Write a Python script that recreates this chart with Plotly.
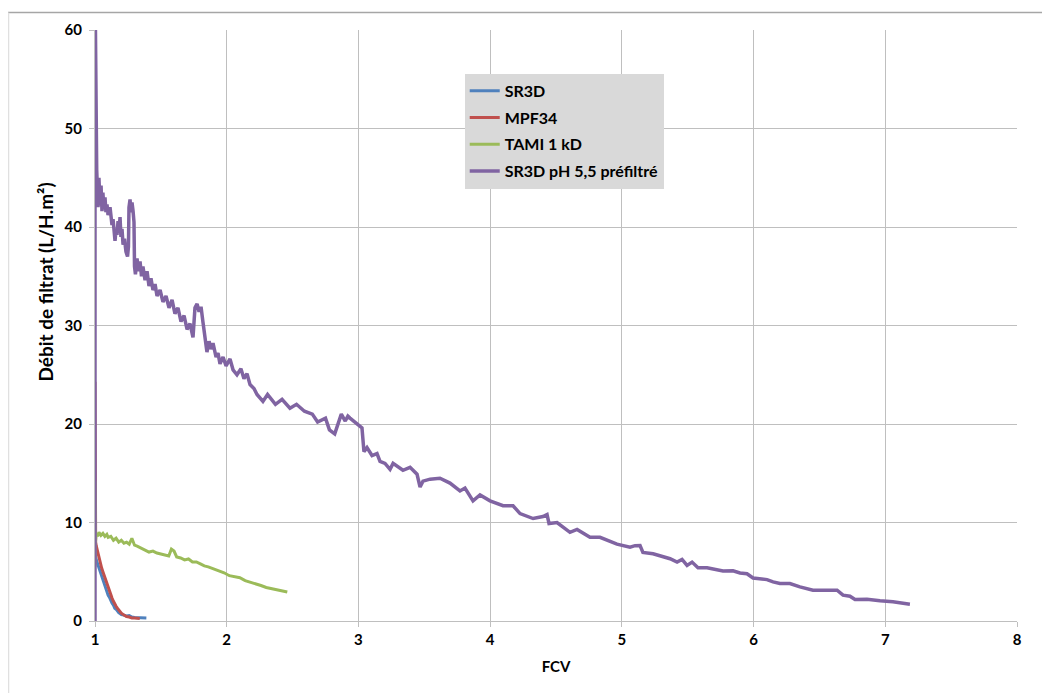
import plotly.graph_objects as go

# ---------------- data ----------------
sr3d_x = [1.0, 1.002, 1.01, 1.02, 1.03, 1.04, 1.05, 1.06, 1.07, 1.08, 1.09, 1.1, 1.11, 1.12,
          1.13, 1.14, 1.15, 1.16, 1.17, 1.18, 1.19, 1.2, 1.22, 1.24, 1.26, 1.28, 1.3, 1.32,
          1.34, 1.36, 1.38, 1.39]
sr3d_y = [7.5, 6.8, 6.2, 5.8, 5.2, 4.9, 4.4, 4.1, 3.6, 3.3, 3.0, 2.6, 2.4, 2.0,
          1.8, 1.6, 1.3, 1.2, 1.0, 0.85, 0.75, 0.65, 0.6, 0.5, 0.55, 0.4, 0.35, 0.35,
          0.3, 0.32, 0.3, 0.3]

mpf34_x = [1.0, 1.0, 1.005, 1.01, 1.02, 1.03, 1.04, 1.05, 1.06, 1.07, 1.08, 1.09, 1.1, 1.11,
           1.12, 1.13, 1.14, 1.15, 1.16, 1.17, 1.18, 1.19, 1.2, 1.22, 1.24, 1.26, 1.28, 1.3,
           1.32, 1.34]
mpf34_y = [24.3, 8.3, 8.0, 7.6, 7.0, 6.4, 6.0, 5.4, 5.0, 4.6, 4.1, 3.7, 3.3, 3.0,
           2.6, 2.3, 2.0, 1.7, 1.5, 1.3, 1.1, 0.95, 0.8, 0.6, 0.45, 0.4, 0.3, 0.3,
           0.25, 0.25]

tami_x = [1.0, 1.0, 1.003, 1.01, 1.02, 1.03, 1.045, 1.06, 1.075, 1.09, 1.1, 1.12, 1.14, 1.16,
          1.18, 1.2, 1.22, 1.24, 1.26, 1.28, 1.3, 1.32, 1.35, 1.38, 1.41, 1.44, 1.47, 1.5,
          1.53, 1.56, 1.58, 1.6, 1.62, 1.65, 1.68, 1.71, 1.74, 1.77, 1.8, 1.83, 1.86, 1.9,
          1.94, 1.98, 2.02, 2.06, 2.1, 2.14, 2.18, 2.22, 2.26, 2.3, 2.34, 2.38, 2.42, 2.46]
tami_y = [5.5, 14.2, 8.0, 8.9, 8.6, 9.0, 8.7, 8.9, 8.6, 8.8, 8.5, 8.6, 8.2, 8.4,
          8.0, 8.2, 7.9, 8.0, 7.8, 8.4, 7.7, 7.6, 7.4, 7.2, 7.0, 7.1, 6.9, 6.8,
          6.7, 6.6, 7.3, 7.1, 6.5, 6.4, 6.2, 6.3, 6.0, 6.0, 5.8, 5.6, 5.5, 5.3,
          5.1, 4.9, 4.6, 4.5, 4.4, 4.1, 3.95, 3.8, 3.6, 3.4, 3.3, 3.2, 3.1, 2.95]

ph55_x = [1.0, 1.0, 1.0, 1.013, 1.023, 1.03, 1.038, 1.046, 1.053, 1.06, 1.068, 1.076, 1.083,
          1.091, 1.099, 1.114, 1.129, 1.137, 1.152, 1.16, 1.167, 1.175, 1.182, 1.19, 1.197,
          1.205, 1.213, 1.224, 1.235, 1.247, 1.254, 1.258, 1.266, 1.273, 1.281, 1.289, 1.296,
          1.3, 1.307, 1.319, 1.33, 1.342, 1.353, 1.364, 1.38, 1.395, 1.41, 1.425, 1.44,
          1.456, 1.471, 1.494, 1.516, 1.539, 1.562, 1.585, 1.607, 1.63, 1.653, 1.676, 1.699,
          1.721, 1.744, 1.759, 1.775, 1.79, 1.805, 1.82, 1.835, 1.85, 1.866, 1.881, 1.896,
          1.919, 1.934, 1.949, 1.972, 1.995, 2.025, 2.048, 2.078, 2.108, 2.131, 2.154, 2.177,
          2.207, 2.23, 2.275, 2.31, 2.37, 2.42, 2.48, 2.53, 2.59, 2.65, 2.69, 2.75, 2.78,
          2.82, 2.845, 2.87, 2.9, 2.92, 2.936, 2.99, 3.027, 3.042, 3.065, 3.103, 3.141,
          3.164, 3.202, 3.24, 3.263, 3.338, 3.392, 3.445, 3.468, 3.49, 3.544, 3.619, 3.695,
          3.771, 3.809, 3.87, 3.923, 3.999, 4.098, 4.174, 4.227, 4.326, 4.401, 4.432, 4.447,
          4.508, 4.606, 4.66, 4.758, 4.834, 4.963, 5.062, 5.1, 5.138, 5.16, 5.237, 5.366,
          5.419, 5.457, 5.495, 5.533, 5.578, 5.647, 5.768, 5.844, 5.897, 5.95, 5.996, 6.102,
          6.148, 6.2, 6.276, 6.352, 6.451, 6.558, 6.634, 6.679, 6.732, 6.77, 6.861, 6.96,
          7.058, 7.187]
ph55_y = [0.0, 26.0, 65.0, 45.8, 42.0, 45.0, 42.2, 44.2, 41.6, 43.5, 41.8, 43.0, 41.5,
          42.3, 41.2, 42.0, 40.2, 40.8, 38.6, 39.8, 39.2, 40.6, 39.5, 41.0, 39.0,
          39.8, 38.2, 38.8, 37.5, 37.0, 38.0, 42.0, 42.8, 41.5, 42.5, 41.6, 40.5,
          36.0, 35.2, 36.8, 35.5, 36.5, 35.0, 36.0, 34.6, 35.5, 34.0, 34.8, 33.6,
          34.2, 33.0, 33.6, 32.4, 33.0, 31.8, 32.6, 31.2, 31.8, 30.4, 31.0, 29.6,
          30.2, 28.8, 31.8, 32.2, 31.4, 31.9, 30.3, 29.0, 27.3, 28.4, 27.6, 28.2,
          26.8, 27.2, 26.1, 26.8, 25.9, 26.6, 25.5, 25.0, 25.6, 24.6, 25.1, 24.0,
          23.6, 23.0, 22.3, 23.0, 22.0, 22.5, 21.6, 22.0, 21.3, 21.0, 20.2, 20.6, 19.4,
          19.0, 20.0, 21.0, 20.3, 20.8, 20.6, 20.0, 19.6, 17.2, 17.6, 16.8, 17.0,
          16.2, 16.0, 15.4, 16.0, 15.3, 15.6, 14.9, 13.6, 14.2, 14.4, 14.5, 14.0,
          13.2, 13.5, 12.2, 12.8, 12.2, 11.7, 11.7, 10.9, 10.4, 10.6, 10.8, 9.9,
          10.0, 9.0, 9.3, 8.5, 8.5, 7.8, 7.5, 7.65, 7.66, 6.96, 6.82, 6.32,
          5.98, 6.25, 5.65, 5.98, 5.41, 5.41, 5.07, 5.1, 4.87, 4.8, 4.37, 4.2,
          3.97, 3.8, 3.8, 3.46, 3.13, 3.17, 3.13, 2.62, 2.52, 2.18, 2.2, 2.05,
          1.95, 1.71]

series_names = ["SR3D", "MPF34", "TAMI 1 kD", "SR3D pH 5,5 préfiltré"]
series_x = [sr3d_x, mpf34_x, tami_x, ph55_x]
series_y = [sr3d_y, mpf34_y, tami_y, ph55_y]
series_colors = ["#4f81bd", "#c0504d", "#9bbb59", "#8064a2"]
series_widths = [3, 3, 3, 3.5]

x_ticks = [1, 2, 3, 4, 5, 6, 7, 8]
y_ticks = [0, 10, 20, 30, 40, 50, 60]
y_title = "Débit de filtrat (L/H.m²)"
x_title = "FCV"

FONT = "Lato"

fig = go.Figure()
for name, xs, ys, col, w in zip(series_names, series_x, series_y, series_colors, series_widths):
    fig.add_trace(go.Scatter(x=xs, y=ys, mode="lines", name=name, legendgroup=name,
                             line=dict(color=col, width=w)))

grid = "#bfbfbf"
fig.update_layout(
    width=1050, height=693,
    margin=dict(l=87, r=41, t=18, b=80),
    paper_bgcolor="white", plot_bgcolor="white",
    font=dict(family=FONT, color="#000000"),
    showlegend=True,
    legend=dict(x=0.401, y=0.926, xanchor="left", yanchor="top",
                bgcolor="#d9d9d9", borderwidth=0, tracegroupgap=3,
                font=dict(family=FONT, size=16, color="#000000", weight="bold")),
    xaxis=dict(range=[1, 8], tickvals=x_ticks, ticktext=[str(v) for v in x_ticks],
               showgrid=True, gridcolor=grid, gridwidth=1, zeroline=False,
               showline=True, linecolor=grid, linewidth=1,
               ticks="outside", ticklen=5, tickcolor=grid,
               tickfont=dict(family=FONT, size=15, weight="bold"),
               title=dict(text=x_title, standoff=14,
                          font=dict(family=FONT, size=15, weight="bold"))),
    yaxis=dict(range=[0, 60], tickvals=y_ticks, ticktext=[str(v) for v in y_ticks],
               showgrid=True, gridcolor=grid, gridwidth=1, zeroline=False,
               showline=True, linecolor=grid, linewidth=1,
               ticks="outside", ticklen=5, tickcolor=grid, ticklabelstandoff=4,
               tickfont=dict(family=FONT, size=15, weight="bold")),
)

# y-axis title as rotated annotation (positioned like the reference)
fig.add_annotation(text=y_title, xref="paper", yref="paper", x=-0.054, y=0.573,
                   xanchor="center", yanchor="middle", textangle=-90, showarrow=False,
                   font=dict(family=FONT, size=19, weight="bold", color="#000000"))

# outer chart frame (top and left edges visible)
fig.add_shape(type="line", xref="paper", yref="paper", x0=-0.1, x1=1.05, y0=1.0294, y1=1.0294,
              line=dict(color="#a6a6a6", width=1.5))
fig.add_shape(type="line", xref="paper", yref="paper", x0=-0.0938, x1=-0.0938, y0=1.0294, y1=-0.14,
              line=dict(color="#e0e0e0", width=1.5))

fig.write_html("out.html")
